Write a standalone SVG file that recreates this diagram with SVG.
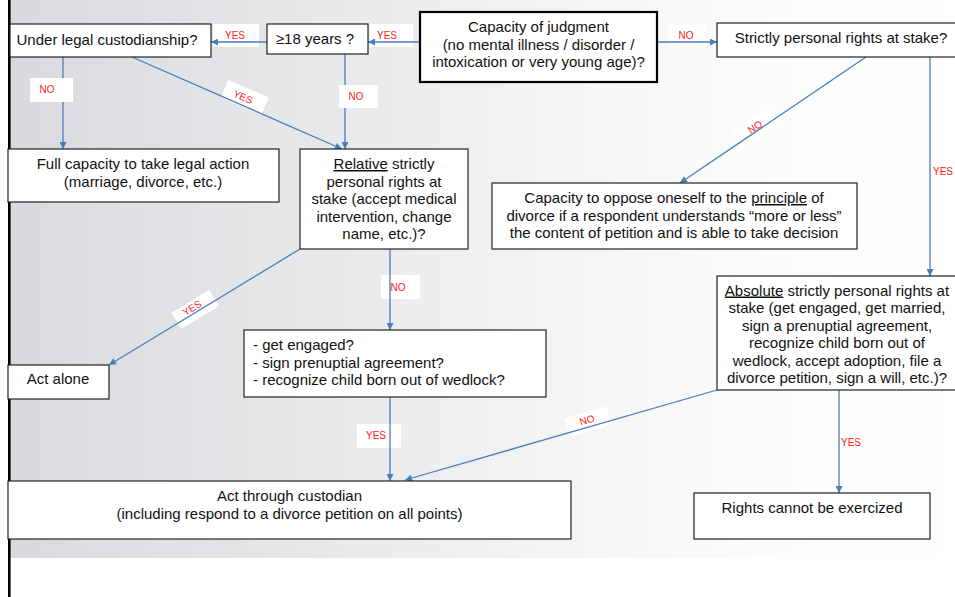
<svg xmlns="http://www.w3.org/2000/svg" width="955" height="597" viewBox="0 0 955 597">
<defs>
<linearGradient id="bg" x1="0" y1="0" x2="1" y2="0">
<stop offset="0" stop-color="#d9dadd"/>
<stop offset="0.3" stop-color="#e6e7e9"/>
<stop offset="0.6" stop-color="#f5f5f6"/>
<stop offset="0.8" stop-color="#fcfcfd"/>
<stop offset="1" stop-color="#ffffff"/>
</linearGradient>
<marker id="arr" viewBox="0 0 10 10" refX="10" refY="5" markerWidth="8" markerHeight="7" orient="auto" markerUnits="userSpaceOnUse">
<path d="M0,0 L10,5 L0,10 z" fill="#4a7ebb"/>
</marker>
<style>
.box{fill:#fff;stroke:#222;stroke-width:1.2}
.thick{fill:#fff;stroke:#000;stroke-width:2.2}
.t{font-family:"Liberation Sans",Arial,sans-serif;font-size:15px;fill:#111}
.m{text-anchor:middle}
.u{text-decoration:underline}
.c{fill:none;stroke:#4a7ebb;stroke-width:1.3;marker-end:url(#arr)}
.lb{fill:#fff}
.lt{font-family:"Liberation Sans",Arial,sans-serif;font-size:10px;fill:#ff1a1a;text-anchor:middle}
</style>
</defs>
<rect x="0" y="0" width="955" height="597" fill="#fff"/>
<rect x="10" y="0" width="945" height="558" fill="url(#bg)"/>
<line x1="9.3" y1="0" x2="9.3" y2="597" stroke="#000" stroke-width="2.6"/>

<g id="connectors">
<!-- label backgrounds -->
<rect class="lb" x="370" y="24" width="43" height="23"/>
<rect class="lb" x="213" y="24" width="46" height="23"/>
<rect class="lb" x="668" y="24" width="37" height="23"/>
<rect class="lb" x="381" y="275" width="39" height="24"/>
<rect class="lb" x="357" y="424" width="44" height="24"/>
<g transform="translate(245,97) rotate(23.66)"><rect class="lb" x="-22" y="-9" width="44" height="19"/></g>
<g transform="translate(195,309) rotate(-31.3)"><rect class="lb" x="-22" y="-9" width="44" height="19"/></g>
<g transform="translate(756,127) rotate(-34.1)"><rect class="lb" x="-22" y="-9" width="44" height="19"/></g>
<g transform="translate(588,421) rotate(-16.1)"><rect class="lb" x="-22" y="-9" width="44" height="19"/></g>
<!-- lines -->
<line class="c" x1="420" y1="42" x2="368" y2="42"/>
<line class="c" x1="267" y1="42" x2="211" y2="42"/>
<line class="c" x1="657" y1="42" x2="717" y2="42"/>
<line class="c" x1="63" y1="57" x2="63" y2="149"/>
<line class="c" x1="132" y1="57" x2="342" y2="149"/>
<line class="c" x1="345" y1="54" x2="345" y2="149"/>
<line class="c" x1="866" y1="57" x2="680" y2="183"/>
<line class="c" x1="930" y1="57" x2="930" y2="276"/>
<line class="c" x1="300" y1="249" x2="109" y2="365"/>
<line class="c" x1="390" y1="249" x2="390" y2="330"/>
<line class="c" x1="390" y1="397" x2="390" y2="481"/>
<line class="c" x1="717" y1="390" x2="405" y2="480"/>
<line class="c" x1="839" y1="390" x2="839" y2="493"/>
<!-- labels covering lines -->
<rect class="lb" x="30" y="78" width="43" height="24"/>
<rect class="lb" x="339" y="85" width="39" height="23"/>
<!-- label texts -->
<text class="lt" x="387" y="38.5">YES</text>
<text class="lt" x="235" y="38.5">YES</text>
<text class="lt" x="686" y="38.5">NO</text>
<text class="lt" x="47" y="93">NO</text>
<text class="lt" x="356" y="100">NO</text>
<text class="lt" x="398" y="291">NO</text>
<text class="lt" x="376" y="439">YES</text>
<text class="lt" x="943" y="174.5">YES</text>
<text class="lt" x="851" y="446">YES</text>
<text class="lt" transform="translate(243,97) rotate(23.66)" y="3.5">YES</text>
<text class="lt" transform="translate(192,308) rotate(-31.3)" y="3.5">YES</text>
<text class="lt" transform="translate(755,127) rotate(-34.1)" y="3.5">NO</text>
<text class="lt" transform="translate(587,420) rotate(-16.1)" y="3.5">NO</text>
</g>

<g id="n_capacity">
<rect class="thick" x="420" y="12" width="237" height="70"/>
<text class="t m" x="538.5" y="32">Capacity of judgment</text>
<text class="t m" x="538.5" y="49.5">(no mental illness / disorder /</text>
<text class="t m" x="538.5" y="67">intoxication or very young age)?</text>
</g>

<g id="n_age">
<rect class="box" x="267" y="24" width="101" height="30"/>
<text class="t m" x="315" y="44">≥18 years ?</text>
</g>

<g id="n_custody">
<rect class="box" x="10" y="24" width="201" height="33"/>
<text class="t m" x="107" y="44.5">Under legal custodianship?</text>
</g>

<g id="n_strict">
<rect class="box" x="717" y="23" width="250" height="34"/>
<text class="t m" x="841" y="42.5">Strictly personal rights at stake?</text>
</g>

<g id="n_full">
<rect class="box" x="8" y="149" width="271" height="53"/>
<text class="t m" x="143" y="169">Full capacity to take legal action</text>
<text class="t m" x="143" y="187">(marriage, divorce, etc.)</text>
</g>

<g id="n_relative">
<rect class="box" x="300" y="149" width="168" height="100"/>
<text class="t m" x="384" y="169"><tspan class="u">Relative</tspan> strictly</text>
<text class="t m" x="384" y="186.6">personal rights at</text>
<text class="t m" x="384" y="204.2">stake (accept medical</text>
<text class="t m" x="384" y="221.8">intervention, change</text>
<text class="t m" x="384" y="239.4">name, etc.)?</text>
</g>

<g id="n_oppose">
<rect class="box" x="492" y="183" width="365" height="66"/>
<text class="t m" x="674" y="203">Capacity to oppose oneself to the <tspan class="u">principle</tspan> of</text>
<text class="t m" x="674" y="220.5">divorce if a respondent understands “more or less”</text>
<text class="t m" x="674" y="238">the content of petition and is able to take decision</text>
</g>

<g id="n_absolute">
<rect class="box" x="717" y="276" width="250" height="114"/>
<text class="t m" x="837" y="295.5"><tspan class="u">Absolute</tspan> strictly personal rights at</text>
<text class="t m" x="837" y="313">stake (get engaged, get married,</text>
<text class="t m" x="837" y="330.5">sign a prenuptial agreement,</text>
<text class="t m" x="837" y="348">recognize child born out of</text>
<text class="t m" x="837" y="365.5">wedlock, accept adoption, file a</text>
<text class="t m" x="837" y="383">divorce petition, sign a will, etc.)?</text>
</g>

<g id="n_alone">
<rect class="box" x="8" y="365" width="101" height="34"/>
<text class="t m" x="58" y="384">Act alone</text>
</g>

<g id="n_engaged">
<rect class="box" x="244" y="330" width="302" height="67"/>
<text class="t" x="253" y="350">- get engaged?</text>
<text class="t" x="253" y="367.5">- sign prenuptial agreement?</text>
<text class="t" x="253" y="385">- recognize child born out of wedlock?</text>
</g>

<g id="n_custodian">
<rect class="box" x="8" y="481" width="563" height="58"/>
<text class="t m" x="289.5" y="501">Act through custodian</text>
<text class="t m" x="289.5" y="519">(including respond to a divorce petition on all points)</text>
</g>

<g id="n_rights">
<rect class="box" x="694" y="493" width="236" height="46"/>
<text class="t m" x="812" y="512.5">Rights cannot be exercized</text>
</g>
</svg>
